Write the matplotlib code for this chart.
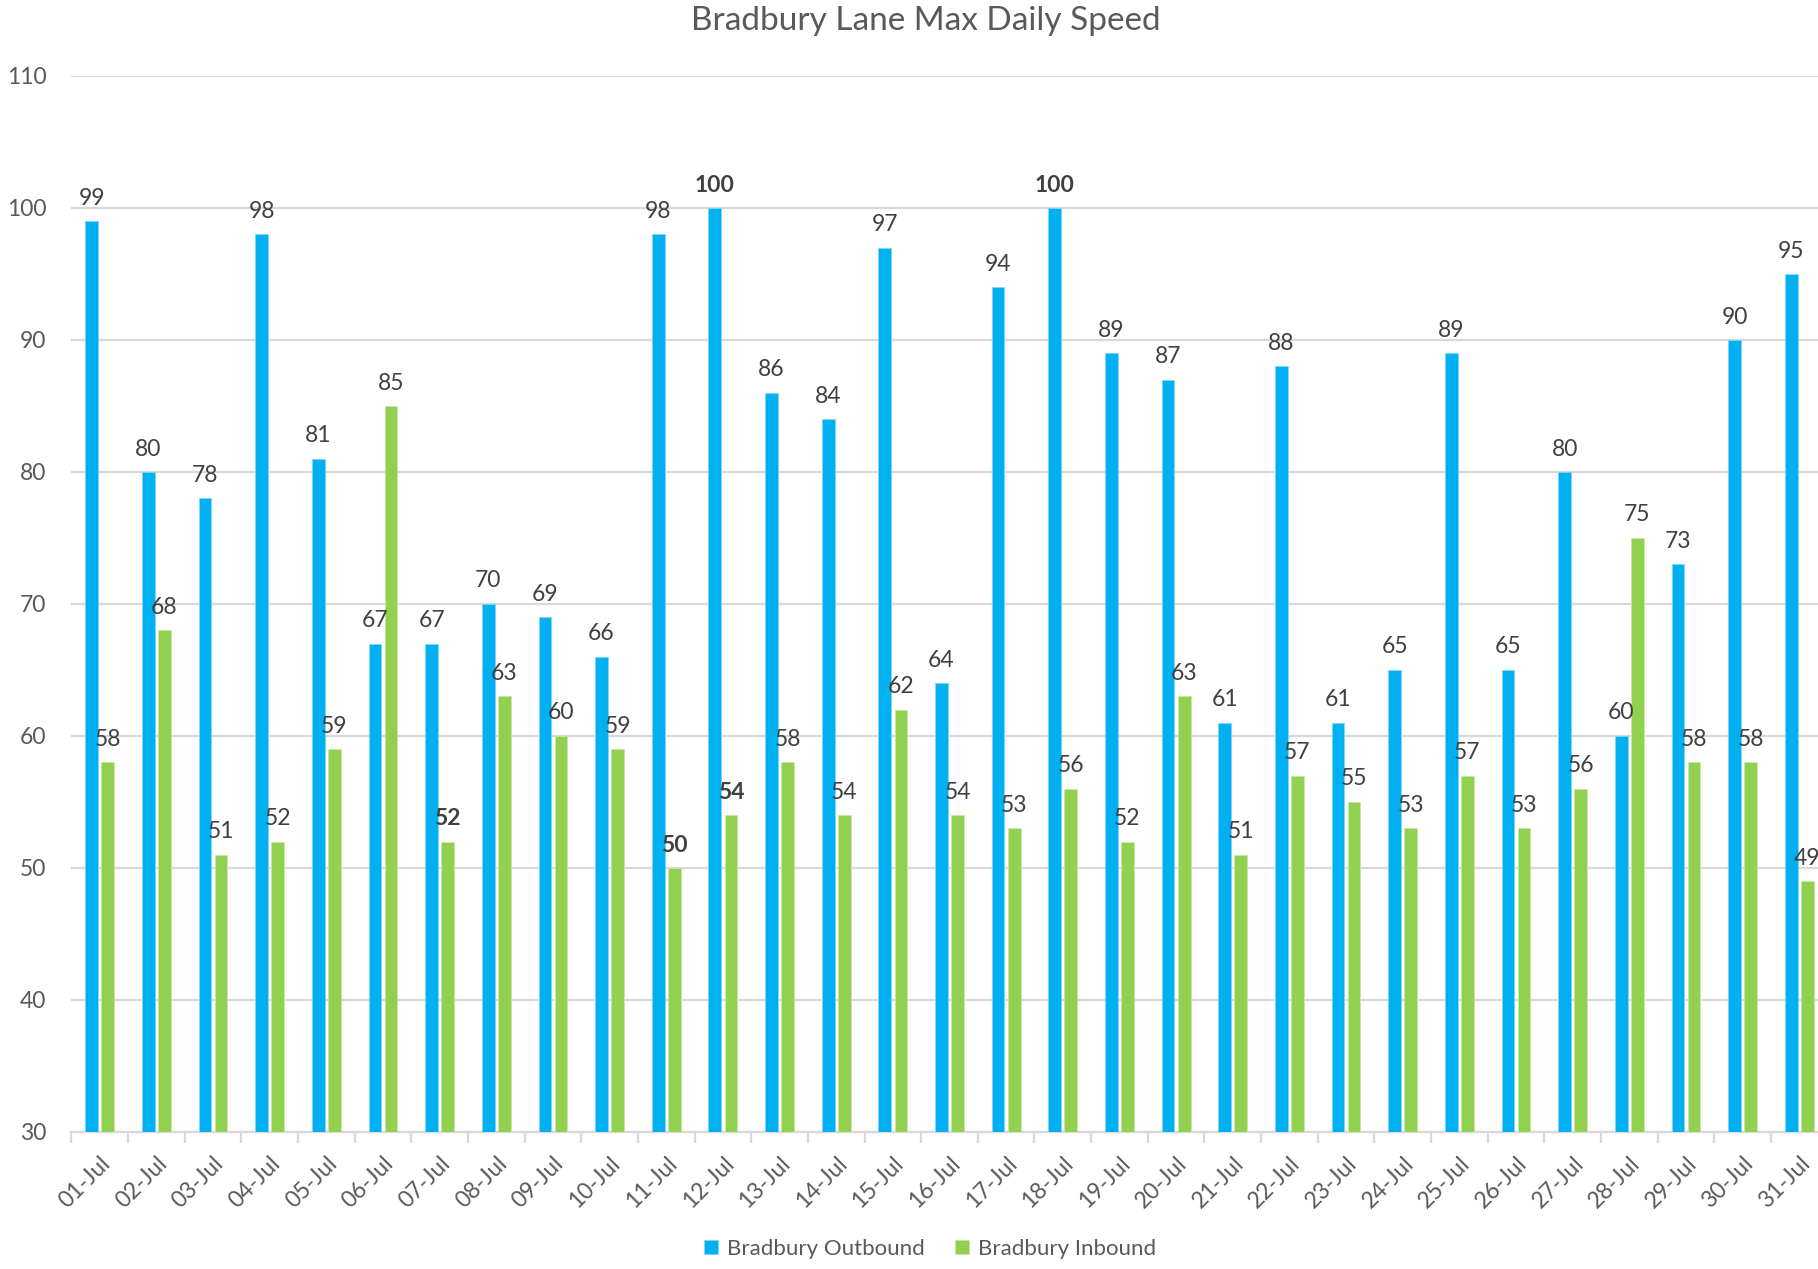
import numpy as np
import matplotlib.pyplot as plt

days = [f"{d:02d}-Jul" for d in range(1, 32)]
outbound = [99, 80, 78, 98, 81, 67, 67, 70, 69, 66, 98, 100, 86, 84, 97, 64,
            94, 100, 89, 87, 61, 88, 61, 65, 89, 65, 80, 60, 73, 90, 95]
inbound = [58, 68, 51, 52, 59, 85, 52, 63, 60, 59, 50, 54, 58, 54, 62, 54,
           53, 56, 52, 63, 51, 57, 55, 53, 57, 53, 56, 75, 58, 58, 49]
# labels drawn in bold in the original
bold_out = {"12-Jul", "18-Jul"}
bold_in = {"07-Jul", "11-Jul", "12-Jul"}

BLUE = "#00B0F0"
GREEN = "#92D050"
TXT = "#404040"
AX = "#595959"

plt.rcParams['font.family'] = ['Lato', 'DejaVu Sans']

W, H = 1818, 1269
fig = plt.figure(figsize=(W / 100, H / 100), dpi=100)
left, right = 71.4, 1827.6
bottom, top = 1132, 76
ax = fig.add_axes([left / W, 1 - bottom / H, (right - left) / W, (bottom - top) / H])

x = np.arange(len(days))
bw = 0.225
off = 0.142
b1 = ax.bar(x - off, [v - 30 for v in outbound], bw, bottom=30, color=BLUE,
            edgecolor="#7fd7f7", linewidth=0.6, label="Bradbury Outbound", zorder=3)
b2 = ax.bar(x + off, [v - 30 for v in inbound], bw, bottom=30, color=GREEN,
            edgecolor="#c8e8a7", linewidth=0.6, label="Bradbury Inbound", zorder=3)

for i, d in enumerate(days):
    ax.annotate(str(outbound[i]), (x[i] - off, outbound[i]), xytext=(0, 9),
                textcoords="offset points", ha="center", va="bottom",
                fontsize=16.5, color=TXT,
                fontweight="bold" if d in bold_out else "normal", annotation_clip=False)
    ax.annotate(str(inbound[i]), (x[i] + off, inbound[i]), xytext=(0, 9),
                textcoords="offset points", ha="center", va="bottom",
                fontsize=16.5, color=TXT,
                fontweight="bold" if d in bold_in else "normal", annotation_clip=False)

ax.set_xlim(-0.5, len(days) - 0.5)
ax.set_ylim(30, 110)
ax.set_yticks(range(30, 111, 10))
ax.yaxis.grid(True, color="#d9d9d9", linewidth=1.6, zorder=0)
ax.set_axisbelow(True)

ax.set_xticks(x)
ax.set_xticklabels(days, rotation=45, ha="right", rotation_mode="anchor",
                   fontsize=16.5, color=AX)
ax.set_xticks(np.arange(-0.5, len(days), 1), minor=True)
ax.tick_params(axis="x", which="major", length=0, pad=15)
ax.tick_params(axis="x", which="minor", length=8, color="#d9d9d9", width=1.6)
ax.tick_params(axis="y", length=0, labelsize=16.5, labelcolor=AX, pad=18)

for s in ["top", "right", "left"]:
    ax.spines[s].set_visible(False)
ax.spines["bottom"].set_color("#d9d9d9")
ax.spines["bottom"].set_linewidth(1.6)

fig.text(926 / W, 1 - 21 / H, "Bradbury Lane Max Daily Speed", ha="center",
         va="center", fontsize=24, color=AX)

fig.legend(handles=[b1, b2], loc="center", bbox_to_anchor=(930 / W, 1 - 1249 / H),
           ncol=2, frameon=False, fontsize=16, labelcolor=AX, handlelength=0.6,
           handleheight=0.6, handletextpad=0.4, columnspacing=1.4)

fig.savefig("out.png", dpi=100)
